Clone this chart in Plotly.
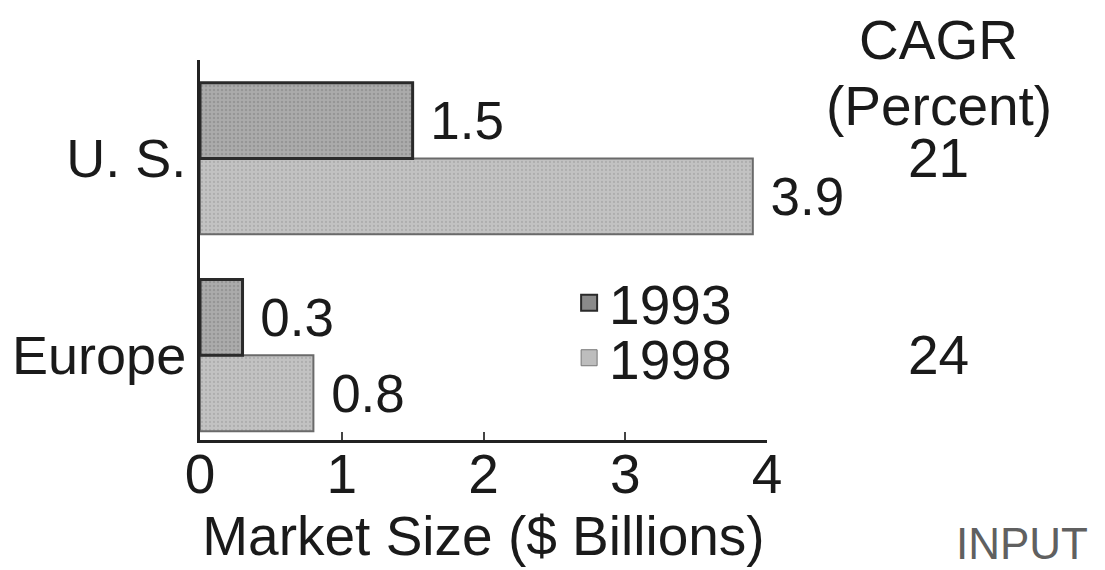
import plotly.graph_objects as go

regions = ["Europe", "U. S."]
values_1993 = [0.3, 1.5]
values_1998 = [0.8, 3.9]
cagr = [24, 21]
x_ticks = [0, 1, 2, 3, 4]

FONT = "Liberation Sans, Arial, sans-serif"
BIG = 55
NB = "\u00a0"

fig = go.Figure()

fig.add_trace(go.Bar(
    y=regions, x=values_1998, orientation="h", name="1998",
    text=[f"{NB}{v:.1f}" for v in values_1998], textposition="outside",
    textfont=dict(size=53, color="#1a1a1a", family=FONT),
    constraintext="none", cliponaxis=False,
    marker=dict(color="#c2c2c2", line=dict(color="#6a6a6a", width=2),
                pattern=dict(shape=".", size=4, solidity=0.25, fgcolor="#9a9a9a",
                             fillmode="overlay")),
    showlegend=False,
))
fig.add_trace(go.Bar(
    y=regions, x=values_1993, orientation="h", name="1993",
    text=[f"{NB}{v:.1f}" for v in values_1993], textposition="outside",
    textfont=dict(size=53, color="#1a1a1a", family=FONT),
    constraintext="none", cliponaxis=False,
    marker=dict(color="#ababab", line=dict(color="#2a2a2a", width=3),
                pattern=dict(shape=".", size=4, solidity=0.3, fgcolor="#808080",
                             fillmode="overlay")),
    showlegend=False,
))

# legend entries (each in its own legend for exact spacing)
fig.add_trace(go.Scatter(x=[None], y=[None], mode="markers", name="1993", legend="legend",
                         marker=dict(symbol="square", size=16, color="#8a8a8a",
                                     line=dict(color="#2a2a2a", width=2))))
fig.add_trace(go.Scatter(x=[None], y=[None], mode="markers", name="1998", legend="legend2",
                         marker=dict(symbol="square", size=16, color="#bdbdbd",
                                     line=dict(color="#777777", width=1))))

CAGR_X = 1.303  # paper x of CAGR column centre

# CAGR values
for r, c in zip(regions, cagr):
    fig.add_annotation(x=CAGR_X, y=r, xref="paper", yref="y", xanchor="center",
                       text=str(c), showarrow=False,
                       font=dict(size=BIG, color="#1a1a1a", family=FONT))

fig.add_annotation(x=CAGR_X, y=1.0, xref="paper", yref="paper", xanchor="center",
                   yanchor="middle", yshift=20, text="CAGR", showarrow=False,
                   font=dict(size=BIG, color="#1a1a1a", family=FONT))
fig.add_annotation(x=CAGR_X, y=1.0, xref="paper", yref="paper", xanchor="center",
                   yanchor="middle", yshift=-46, text="(Percent)", showarrow=False,
                   font=dict(size=BIG, color="#1a1a1a", family=FONT))

fig.add_annotation(x=1.57, y=0.0, xref="paper", yref="paper", xanchor="right", yanchor="middle",
                   yshift=-103,
                   text="INPUT", showarrow=False,
                   font=dict(size=44, color="#606060", family=FONT))

legend_common = dict(xanchor="left", yanchor="middle", bgcolor="rgba(0,0,0,0)",
                     font=dict(size=BIG, family=FONT, color="#1a1a1a"), itemwidth=30)

fig.update_layout(
    width=1105, height=570,
    margin=dict(l=192, r=346, t=52, b=138),
    paper_bgcolor="white", plot_bgcolor="white",
    barmode="group", bargap=0.23, bargroupgap=0,
    font=dict(family=FONT, size=BIG, color="#1a1a1a"),
    legend=dict(x=0.651, y=0.3605, **legend_common),
    legend2=dict(x=0.651, y=0.2158, **legend_common),
    xaxis=dict(range=[0, 4], tickvals=x_ticks, ticktext=[str(t) for t in x_ticks],
               automargin=False,
               showgrid=False, zeroline=False, showline=True, linecolor="#222222",
               linewidth=3, ticks="inside", ticklen=8, tickwidth=2, tickcolor="#444444",
               ticklabelstandoff=-16,
               tickfont=dict(size=BIG, family=FONT),
               title=dict(text="Market Size ($ Billions)", standoff=0,
                          font=dict(size=BIG, family=FONT))),
    yaxis=dict(categoryorder="array", categoryarray=regions, range=[-0.43, 1.5],
               automargin=False,
               showgrid=False, zeroline=False, showline=True, linecolor="#222222",
               linewidth=3, ticks="", ticklabelstandoff=0,
               tickfont=dict(size=54, family=FONT)),
)

fig.write_html("out.html")
